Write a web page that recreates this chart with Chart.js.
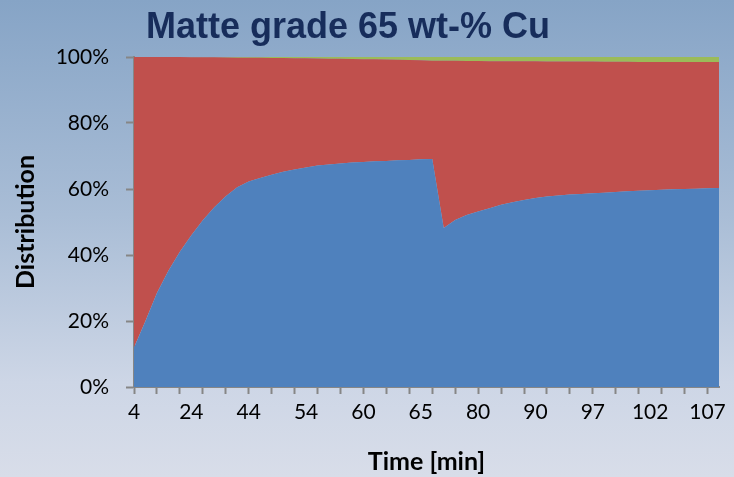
<!DOCTYPE html>
<html>
<head>
<meta charset="utf-8">
<script src="https://cdn.jsdelivr.net/npm/chart.js@4/dist/chart.umd.min.js"></script>
<style>
  html, body { margin: 0; padding: 0; }
  body {
    width: 734px; height: 477px; overflow: hidden;
    background: linear-gradient(to bottom, #86a4c6 0%, #a9bdd6 45%, #cdd6e6 80%, #d8dde9 100%);
  }
  canvas { display: block; }
</style>
</head>
<body>
<canvas id="c" width="734" height="477"></canvas>
<script>
// Sampling times [min]
const times = [4, 8, 12, 16, 20, 24, 28, 32, 36, 40,
  44, 46, 48, 50, 52, 54, 55, 56, 57, 59,
  60, 61, 62, 63, 64, 65, 68, 70, 74, 77,
  80, 82, 84, 86, 88, 90, 91, 93, 94, 96,
  97, 98, 99, 100, 101, 102, 103, 104, 105, 106,
  107, 108];

// Share of each phase, in percent
const series1 = [12, 20, 28.5, 35.2, 41, 46, 50.5, 54.5, 57.8, 60.5,
  62.3, 63.3, 64.3, 65.2, 65.9, 66.5, 67.1, 67.4, 67.7, 68.0,
  68.2, 68.4, 68.5, 68.7, 68.8, 69.0, 69.1, 48.2, 50.6, 52.1,
  53.2, 54.2, 55.2, 56.0, 56.7, 57.3, 57.7, 58.0, 58.3, 58.5,
  58.7, 58.9, 59.1, 59.3, 59.5, 59.6, 59.8, 59.9, 60.0, 60.1,
  60.2, 60.3];

const series2 = [88, 80, 71.5, 64.8, 59, 53.95, 49.4, 45.4, 42.05, 39.3,
  37.5, 36.45, 35.4, 34.5, 33.75, 33.1, 32.45, 32.1, 31.75, 31.4,
  31.15, 30.9, 30.75, 30.5, 30.3, 30.0, 29.8, 50.7, 48.25, 46.7,
  45.6, 44.55, 43.55, 42.7, 42.0, 41.4, 40.95, 40.65, 40.3, 40.1,
  39.9, 39.65, 39.45, 39.25, 39.0, 38.9, 38.7, 38.6, 38.45, 38.35,
  38.25, 38.15];

const series3 = [0, 0, 0, 0, 0, 0.05, 0.1, 0.1, 0.15, 0.2,
  0.2, 0.25, 0.3, 0.3, 0.35, 0.4, 0.45, 0.5, 0.55, 0.6,
  0.65, 0.7, 0.75, 0.8, 0.9, 1.0, 1.1, 1.1, 1.15, 1.2,
  1.2, 1.25, 1.25, 1.3, 1.3, 1.3, 1.35, 1.35, 1.4, 1.4,
  1.4, 1.45, 1.45, 1.45, 1.5, 1.5, 1.5, 1.5, 1.55, 1.55,
  1.55, 1.55];

const yTicks = [0, 20, 40, 60, 80, 100];
const chartTitle = 'Matte grade 65 wt-% Cu';

const axisGray = '#868686';
const tickFont = { family: 'Lato, "Open Sans", sans-serif', size: 21 };
const axisTitleFont = { family: 'Lato, "Open Sans", sans-serif', size: 25, weight: 'bold', lineHeight: 1.2 };

function area(label, data, color, fill) {
  return {
    label, data, fill,
    backgroundColor: color,
    borderColor: color,
    borderWidth: 0,
    pointRadius: 0,
    pointHoverRadius: 0,
    tension: 0
  };
}

// Heading drawn in the top margin, centred a little left of the canvas middle
const headingPlugin = {
  id: 'heading',
  afterDraw(chart) {
    const ctx = chart.ctx;
    ctx.save();
    ctx.font = 'bold 36px "Liberation Sans", Arial, sans-serif';
    ctx.fillStyle = '#172d5b';
    ctx.textAlign = 'center';
    ctx.textBaseline = 'alphabetic';
    ctx.fillText(chartTitle, 348, 38);
    ctx.restore();
  }
};

new Chart(document.getElementById('c'), {
  type: 'line',
  data: {
    labels: times.map(String),
    datasets: [
      area('Series 1', series1, '#4f81bd', 'origin'),
      area('Series 2', series2, '#c0504d', '-1'),
      area('Series 3', series3, '#9bbb59', '-1')
    ]
  },
  plugins: [headingPlugin],
  options: {
    responsive: false,
    devicePixelRatio: 1,
    animation: false,
    layout: { padding: { left: 0, right: 15, top: 57, bottom: 0 } },
    plugins: {
      legend: { display: false },
      tooltip: { enabled: false },
      title: { display: false }
    },
    scales: {
      x: {
        type: 'category',
        offset: false,
        grid: {
          drawOnChartArea: false,
          drawTicks: true,
          tickLength: 7,
          tickWidth: 2,
          tickColor: (ctx) => (ctx.index % 2 === 0 ? axisGray : 'rgba(0,0,0,0)')
        },
        border: { display: true, color: axisGray, width: 2 },
        ticks: {
          autoSkip: false,
          maxRotation: 0,
          minRotation: 0,
          padding: 6,
          color: '#000',
          font: tickFont,
          callback: (v, i) => (i % 5 === 0 ? times[i] : '')
        },
        title: {
          display: true,
          text: 'Time [min]',
          color: '#000',
          font: axisTitleFont,
          padding: { top: 0, bottom: 0 }
        },
        afterFit: (s) => { s.height = 477 - 387; }
      },
      y: {
        stacked: true,
        min: 0,
        max: 100,
        afterBuildTicks: (s) => { s.ticks = yTicks.map(v => ({ value: v })); },
        grid: {
          drawOnChartArea: false,
          drawTicks: true,
          tickLength: 8,
          tickWidth: 2,
          tickColor: axisGray
        },
        border: { display: true, color: axisGray, width: 2 },
        ticks: {
          padding: 17,
          color: '#000',
          font: tickFont,
          callback: (v) => v + '%'
        },
        title: {
          display: true,
          text: 'Distribution',
          color: '#000',
          font: axisTitleFont,
          padding: { top: 11, bottom: 0 }
        },
        afterFit: (s) => { s.width = 134; }
      }
    }
  }
});
</script>
</body>
</html>
